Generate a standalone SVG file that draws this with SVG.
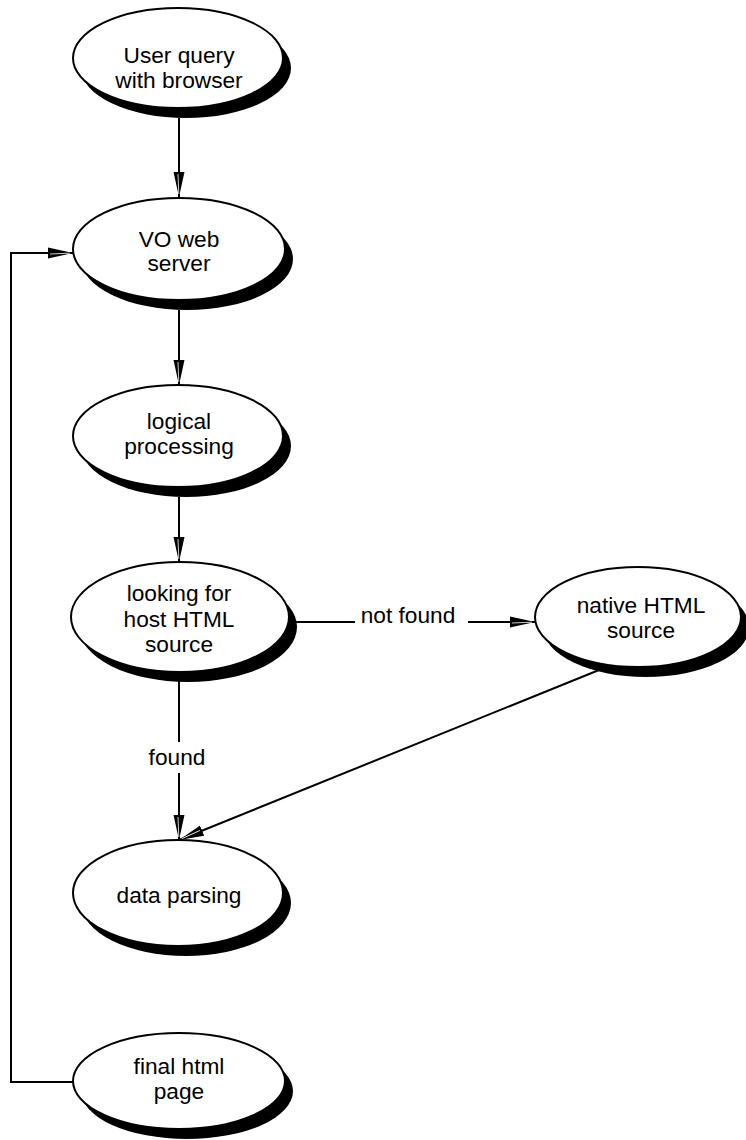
<svg xmlns="http://www.w3.org/2000/svg" width="746" height="1140" viewBox="0 0 746 1140">
<style>
.sh{fill:#000;stroke:none}
.el{fill:#fff;stroke:#000;stroke-width:2}
.t{font-family:"Liberation Sans",Arial,sans-serif;font-size:22.7px;fill:#000;text-anchor:middle}
.c{fill:none;stroke:#000;stroke-width:2}
</style>
<defs>
<marker id="ah" markerUnits="userSpaceOnUse" viewBox="0 0 25 12" refX="25" refY="6" markerWidth="25" markerHeight="12" orient="auto">
<path d="M0,0.5 L25,6 L0,11.5 Z" fill="#000"/>
<path d="M2,7 L22,6.2" stroke="#fff" stroke-width="0.8"/>
</marker>
</defs>
<g id="connectors">
<line class="c" x1="179" y1="118" x2="179" y2="197" marker-end="url(#ah)"/>
<line class="c" x1="179" y1="310" x2="179" y2="385" marker-end="url(#ah)"/>
<line class="c" x1="179" y1="497" x2="179" y2="562" marker-end="url(#ah)"/>
<line class="c" x1="179" y1="680" x2="179" y2="742"/>
<line class="c" x1="179" y1="773" x2="179" y2="840" marker-end="url(#ah)"/>
<text class="t" x="177" y="765">found</text>
<line class="c" x1="290" y1="622" x2="355" y2="622"/>
<line class="c" x1="468" y1="622" x2="535" y2="622" marker-end="url(#ah)"/>
<text class="t" x="408" y="623">not found</text>
<line class="c" x1="641" y1="653" x2="179" y2="840" marker-end="url(#ah)"/>
<polyline class="c" points="73,1082 11,1082 11,253 73,253" marker-end="url(#ah)"/>
</g>
<g id="n1">
<ellipse class="sh" cx="186" cy="68" rx="105" ry="50"/>
<ellipse class="el" cx="178" cy="58" rx="105" ry="50"/>
<text class="t" x="179" y="63">User query</text>
<text class="t" x="179" y="88">with browser</text>
</g>
<g id="n2">
<ellipse class="sh" cx="187" cy="259" rx="106" ry="51"/>
<ellipse class="el" cx="179" cy="249" rx="106" ry="51"/>
<text class="t" x="179" y="247">VO web</text>
<text class="t" x="179" y="271">server</text>
</g>
<g id="n3">
<ellipse class="sh" cx="186" cy="446" rx="105" ry="51"/>
<ellipse class="el" cx="178" cy="436" rx="105" ry="51"/>
<text class="t" x="179" y="429">logical</text>
<text class="t" x="179" y="454">processing</text>
</g>
<g id="n4">
<ellipse class="sh" cx="188" cy="627" rx="109" ry="55"/>
<ellipse class="el" cx="180" cy="617" rx="109" ry="55"/>
<text class="t" x="179" y="601">looking for</text>
<text class="t" x="179" y="627">host HTML</text>
<text class="t" x="179" y="652">source</text>
</g>
<g id="n5">
<ellipse class="sh" cx="646" cy="627" rx="103" ry="50"/>
<ellipse class="el" cx="638" cy="617" rx="103" ry="50"/>
<text class="t" x="641" y="613">native HTML</text>
<text class="t" x="641" y="638">source</text>
</g>
<g id="n6">
<ellipse class="sh" cx="186" cy="903" rx="105" ry="53"/>
<ellipse class="el" cx="178" cy="893" rx="105" ry="53"/>
<text class="t" x="179" y="903">data parsing</text>
</g>
<g id="n7">
<ellipse class="sh" cx="187" cy="1091" rx="106" ry="48"/>
<ellipse class="el" cx="179" cy="1081" rx="106" ry="48"/>
<text class="t" x="179" y="1074">final html</text>
<text class="t" x="179" y="1099">page</text>
</g>
</svg>
